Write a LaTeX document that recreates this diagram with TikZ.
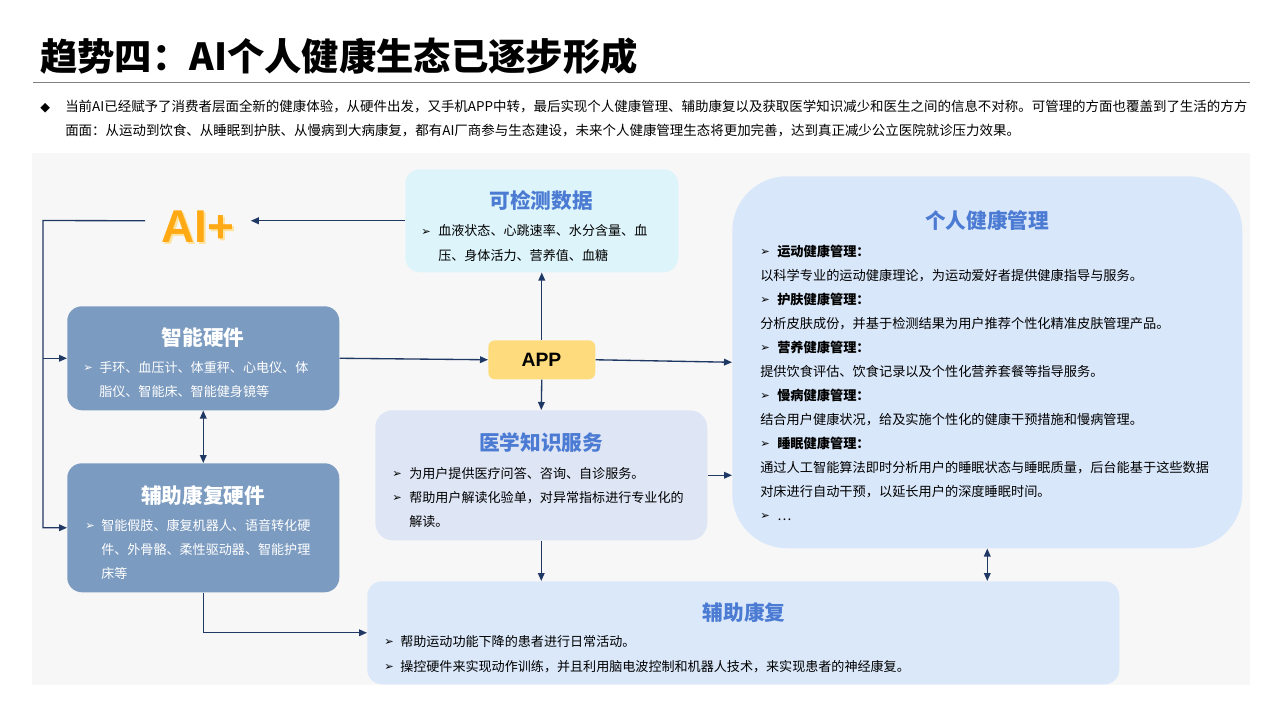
\documentclass[tikz,border=0pt]{standalone}
\usepackage{fontspec}
\setmainfont{Noto Sans CJK SC}
\newfontfamily\sym{DejaVu Sans}
\newfontfamily\lat{Liberation Sans}
\usetikzlibrary{arrows.meta}
\definecolor{bgc}{HTML}{F7F7F7}
\definecolor{datac}{HTML}{DDF4FA}
\definecolor{hwc}{HTML}{7C9BC0}
\definecolor{appc}{HTML}{FEDC7D}
\definecolor{medc}{HTML}{DEE5F5}
\definecolor{persc}{HTML}{D9E7FA}
\definecolor{rehc}{HTML}{DAE8FA}
\definecolor{headc}{HTML}{4B7BD3}
\definecolor{linec}{HTML}{1F3864}
\definecolor{aic}{HTML}{FFAA14}
\definecolor{aish}{HTML}{FFE3A0}
\definecolor{rulec}{HTML}{808080}
\newcommand\bu[1]{\makebox[#1][l]{\raisebox{0.3pt}{\sym\fontsize{8.5pt}{9pt}\selectfont ➢}}}
\tikzset{
  box/.style={rounded corners=11pt, inner sep=0pt, anchor=north west},
  conn/.style={draw=linec, line width=1pt, -{Triangle[length=6pt,width=5pt]}},
  dconn/.style={draw=linec, line width=1pt, {Triangle[length=6pt,width=5pt]}-{Triangle[length=6pt,width=5pt]}},
  head/.style={font=\fontsize{15.5pt}{18pt}\selectfont\bfseries, text=headc, inner sep=0pt},
  body/.style={font=\fontsize{9.8pt}{18pt}\selectfont, inner sep=0pt, anchor=base west, align=left},
  aitext/.style={inner sep=0pt, minimum width=78.75pt, font=\lat\bfseries\fontsize{34.5pt}{36pt}\selectfont}
}
\begin{document}
\begin{tikzpicture}[x=0.75pt,y=-0.75pt]
\useasboundingbox (0,0) rectangle (1280,720);
% title
\node[anchor=base west, inner sep=0pt, font=\fontsize{28pt}{32pt}\selectfont\bfseries] (title) at (40,71) {趋势四：AI个人健康生态已逐步形成};
\draw[rulec, line width=0.75pt] (33,83) -- (1250,83);
\node[anchor=base west, inner sep=0pt, align=left, font=\fontsize{10.1pt}{18pt}\selectfont] (intro) at (40,136)
{\makebox[18.75pt][l]{\raisebox{0.3pt}{\sym\fontsize{9.5pt}{10pt}\selectfont ◆}}当前AI已经赋予了消费者层面全新的健康体验，从硬件出发，又手机APP中转，最后实现个人健康管理、辅助康复以及获取医学知识减少和医生之间的信息不对称。可管理的方面也覆盖到了生活的方方\\\hspace*{18.75pt}面面：从运动到饮食、从睡眠到护肤、从慢病到大病康复，都有AI厂商参与生态建设，未来个人健康管理生态将更加完善，达到真正减少公立医院就诊压力效果。};
% background panel
\fill[bgc] (32,153) rectangle (1250,685);
% boxes
\node[box, fill=datac, minimum width=204.75pt, minimum height=77.25pt] (data) at (405,169) {};
\node[box, fill=hwc, minimum width=204pt, minimum height=78pt] (hw) at (67,306) {};
\node[box, fill=hwc, minimum width=204pt, minimum height=96.75pt] (rhw) at (67,463) {};
\node[box, fill=appc, rounded corners=5pt, minimum width=80.25pt, minimum height=29.25pt] (app) at (488,340) {};
\node[box, fill=medc, rounded corners=13pt, minimum width=249pt, minimum height=97.5pt] (med) at (375,410) {};
\node[box, fill=persc, rounded corners=41pt, minimum width=382.5pt, minimum height=279pt] (pers) at (732,176) {};
\node[box, fill=rehc, minimum width=564pt, minimum height=77.25pt] (rehab) at (367,581) {};
% AI+
\node[aitext, text=aish] (aishadow) at (200,228.5) {AI+};
\node[aitext, text=aic] (ai) at (198,226.5) {AI+};
% headings
\node[head] (datah) at (541,201) {可检测数据};
\node[head, text=white] (hwh) at (203,338) {智能硬件};
\node[head, text=white] (rhwh) at (203,496) {辅助康复硬件};
\node[head] (medh) at (541,443) {医学知识服务};
\node[head] (persh) at (987,221) {个人健康管理};
\node[head] (rehabh) at (744,613) {辅助康复};
\node[inner sep=0pt, font=\lat\bfseries\fontsize{14.5pt}{16pt}\selectfont] (appt) at (541.5,360) {APP};
% bodies (anchor = baseline of the last line)
\node[body] (datab) at (421,260) {\bu{12.75pt}血液状态、心跳速率、水分含量、血\\\hspace*{12.75pt}压、身体活力、营养值、血糖};
\node[body, text=white] (hwb) at (83,396) {\bu{12pt}手环、血压计、体重秤、心电仪、体\\\hspace*{12pt}脂仪、智能床、智能健身镜等};
\node[body, text=white] (rhwb) at (85,578) {\bu{12pt}智能假肢、康复机器人、语音转化硬\\\hspace*{12pt}件、外骨骼、柔性驱动器、智能护理\\\hspace*{12pt}床等};
\node[body] (medb) at (392,526) {\bu{12.75pt}为用户提供医疗问答、咨询、自诊服务。\\\bu{12.75pt}帮助用户解读化验单，对异常指标进行专业化的\\\hspace*{12.75pt}解读。};
\node[body, font=\fontsize{9.9pt}{18pt}\selectfont] (persb) at (760,520) {\bu{12.75pt}\textbf{运动健康管理：}\\以科学专业的运动健康理论，为运动爱好者提供健康指导与服务。\\\bu{12.75pt}\textbf{护肤健康管理：}\\分析皮肤成份，并基于检测结果为用户推荐个性化精准皮肤管理产品。\\\bu{12.75pt}\textbf{营养健康管理：}\\提供饮食评估、饮食记录以及个性化营养套餐等指导服务。\\\bu{12.75pt}\textbf{慢病健康管理：}\\结合用户健康状况，给及实施个性化的健康干预措施和慢病管理。\\\bu{12.75pt}\textbf{睡眠健康管理：}\\通过人工智能算法即时分析用户的睡眠状态与睡眠质量，后台能基于这些数据\\对床进行自动干预，以延长用户的深度睡眠时间。\\\bu{12.75pt}…};
\node[body, font=\fontsize{9.8pt}{18.75pt}\selectfont] (rehabb) at (384,671) {\bu{12pt}帮助运动功能下降的患者进行日常活动。\\\bu{12pt}操控硬件来实现动作训练，并且利用脑电波控制和机器人技术，来实现患者的神经康复。};
% connectors
\coordinate (lt) at (43,220.5);
\draw[conn] (data.west) -- (data.west -| ai.east);
\draw[conn] (data.west -| ai.west) -- (lt) |- (rhw.west);
\draw[conn] (lt |- hw.west) -- (hw.west);
\draw[dconn] (hw.south) -- (rhw.north);
\draw[conn] (hw.east) -- (app.west);
\draw[conn] (app.north) -- (data.south);
\draw[conn] (app.south) -- (med.north);
\draw[conn] (app.east) -- (pers.west);
\draw[conn] (med.east) -- (med.east -| pers.west);
\draw[conn] (med.south) -- (med.south |- rehab.north);
\draw[dconn] (pers.south) -- (pers.south |- rehab.north);
\draw[conn] (rhw.south) |- (rehab.west);
\end{tikzpicture}
\end{document}
